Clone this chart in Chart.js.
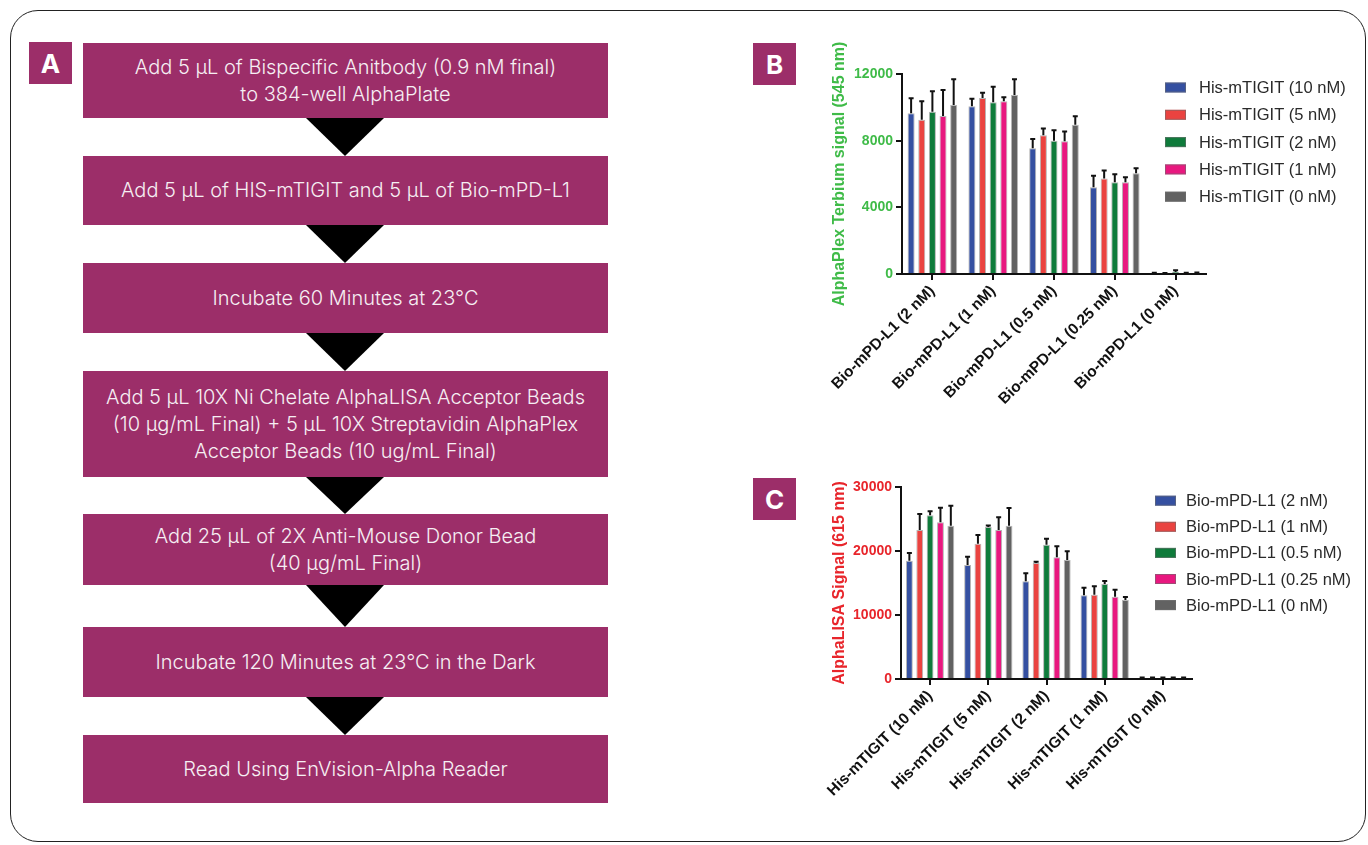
<!DOCTYPE html>
<html>
<head>
<meta charset="utf-8">
<script src="https://cdn.jsdelivr.net/npm/chart.js@4/dist/chart.umd.min.js"></script>
<style>
  html, body { margin: 0; padding: 0; background: #fff; }
  body { width: 1368px; height: 845px; position: relative; overflow: hidden; }
  #frame { position: absolute; left: 10px; top: 10px; width: 1356px; height: 832px;
           border: 1.5px solid #222; border-radius: 28px; box-sizing: border-box; }
  .tag { position: absolute; width: 43px; height: 42px; background: #9c2e69; color: #fff;
         font: 700 26px "Inter", "Noto Sans", sans-serif; display: flex; align-items: center;
         justify-content: center; }
  .step { position: absolute; left: 83px; width: 525px; background: #9c2e69; color: #f6eff3;
          font: 300 20px "Inter", "Noto Sans", sans-serif; line-height: 27px; text-align: center;
          display: flex; align-items: center; justify-content: center; }
  .arrow { position: absolute; left: 306px; width: 0; height: 0;
           border-left: 39px solid transparent; border-right: 39px solid transparent;
           border-top: 38px solid #000; }
  canvas { position: absolute; }
</style>
</head>
<body>
<div id="frame"></div>

<div class="tag" style="left:29px;top:42px">A</div>
<div class="tag" style="left:753px;top:43px">B</div>
<div class="tag" style="left:753px;top:478px">C</div>

<div id="flow"></div>

<canvas id="chartB" width="558" height="400" style="left:810px;top:20px"></canvas>
<canvas id="chartC" width="558" height="405" style="left:810px;top:440px"></canvas>

<script>
// ---- Assay workflow steps ----
const steps = [
  ['Add 5 µL of Bispecific Anitbody (0.9 nM final)', 'to 384-well AlphaPlate'],
  ['Add 5 µL of HIS-mTIGIT and 5 µL of Bio-mPD-L1'],
  ['Incubate 60 Minutes at 23°C'],
  ['Add 5 µL 10X Ni Chelate AlphaLISA Acceptor Beads', '(10 µg/mL Final) + 5 µL 10X Streptavidin AlphaPlex', 'Acceptor Beads (10 ug/mL Final)'],
  ['Add 25 µL of 2X Anti-Mouse Donor Bead', '(40 µg/mL Final)'],
  ['Incubate 120 Minutes at 23°C in the Dark'],
  ['Read Using EnVision-Alpha Reader']
];
const stepTop = [43, 156, 263, 371, 514, 627, 735];
const stepBottom = [118, 225, 333, 477, 585, 697, 803];

// ---- Panel B: AlphaPlex (545 nm), grouped by Bio-mPD-L1 ----
const groupsB = ['Bio-mPD-L1 (2 nM)', 'Bio-mPD-L1 (1 nM)', 'Bio-mPD-L1 (0.5 nM)', 'Bio-mPD-L1 (0.25 nM)', 'Bio-mPD-L1 (0 nM)'];
const seriesB = ['His-mTIGIT (10 nM)', 'His-mTIGIT (5 nM)', 'His-mTIGIT (2 nM)', 'His-mTIGIT (1 nM)', 'His-mTIGIT (0 nM)'];
const tigit10 = [9640, 10060, 7550, 5210, 40];
const tigit10Sd = [900, 460, 550, 680, 40];
const tigit5 = [9250, 10560, 8330, 5730, 30];
const tigit5Sd = [1110, 320, 400, 480, 30];
const tigit2 = [9740, 10300, 8000, 5510, 120];
const tigit2Sd = [1220, 940, 630, 480, 100];
const tigit1 = [9480, 10360, 7970, 5510, 40];
const tigit1Sd = [1560, 240, 580, 300, 30];
const tigit0 = [10140, 10740, 8950, 6050, 50];
const tigit0Sd = [1540, 940, 510, 300, 40];
const ticksB = [0, 4000, 8000, 12000];

// ---- Panel C: AlphaLISA (615 nm), grouped by His-mTIGIT ----
const groupsC = ['His-mTIGIT (10 nM)', 'His-mTIGIT (5 nM)', 'His-mTIGIT (2 nM)', 'His-mTIGIT (1 nM)', 'His-mTIGIT (0 nM)'];
const seriesC = ['Bio-mPD-L1 (2 nM)', 'Bio-mPD-L1 (1 nM)', 'Bio-mPD-L1 (0.5 nM)', 'Bio-mPD-L1 (0.25 nM)', 'Bio-mPD-L1 (0 nM)'];
const pdl2 = [18490, 17810, 15260, 13070, 150];
const pdl2Sd = [1200, 1300, 1250, 1200, 80];
const pdl1 = [23280, 21150, 18130, 13180, 150];
const pdl1Sd = [2500, 1350, 200, 1300, 80];
const pdl05 = [25570, 23750, 20990, 14840, 150];
const pdl05Sd = [630, 250, 940, 470, 80];
const pdl025 = [24480, 23280, 19010, 12860, 150];
const pdl025Sd = [2290, 1980, 1720, 1100, 80];
const pdl0 = [23960, 23960, 18590, 12340, 150];
const pdl0Sd = [3120, 2760, 1360, 470, 80];
const ticksC = [0, 10000, 20000, 30000];

const palette = ['#3550a1', '#ea4340', '#0f7b3b', '#e8187f', '#626262'];
const chartFont = '"Liberation Sans", Arial, sans-serif';

// Build the flowchart boxes and arrows
const flow = document.getElementById('flow');
steps.forEach((lines, i) => {
  const box = document.createElement('div');
  box.className = 'step';
  box.style.top = stepTop[i] + 'px';
  box.style.height = (stepBottom[i] - stepTop[i]) + 'px';
  box.innerHTML = '<div>' + lines.join('<br>') + '</div>';
  flow.appendChild(box);
  if (i < steps.length - 1) {
    const arr = document.createElement('div');
    arr.className = 'arrow';
    arr.style.top = stepBottom[i] + 'px';
    arr.style.borderTopWidth = (stepTop[i + 1] - stepBottom[i]) + 'px';
    flow.appendChild(arr);
  }
});

// Error bars (mean + SD, upper only)
const errorBars = {
  id: 'errorBars',
  afterDatasetsDraw(chart) {
    const ctx = chart.ctx;
    const y = chart.scales.y;
    ctx.save();
    ctx.strokeStyle = '#111';
    ctx.lineWidth = 2;
    chart.data.datasets.forEach((ds, di) => {
      const meta = chart.getDatasetMeta(di);
      meta.data.forEach((bar, i) => {
        const top = y.getPixelForValue(ds.data[i] + ds.sd[i]);
        ctx.beginPath();
        ctx.moveTo(bar.x, bar.y);
        ctx.lineTo(bar.x, top);
        ctx.moveTo(bar.x - 2.5, top);
        ctx.lineTo(bar.x + 2.5, top);
        ctx.stroke();
      });
    });
    ctx.restore();
  }
};

// Legend drawn at a fixed spot beside the bars
const sideLegend = {
  id: 'sideLegend',
  afterDraw(chart, args, opts) {
    const ctx = chart.ctx;
    ctx.save();
    ctx.font = '16.5px ' + chartFont;
    ctx.textBaseline = 'middle';
    chart.data.datasets.forEach((ds, i) => {
      const cy = opts.top + i * opts.gap;
      ctx.fillStyle = ds.backgroundColor;
      ctx.fillRect(opts.boxX, cy - 5, 21, 10);
      ctx.strokeStyle = 'rgba(110,110,110,0.6)';
      ctx.lineWidth = 1;
      ctx.strokeRect(opts.boxX + 0.5, cy - 4.5, 20, 9);
      ctx.fillStyle = '#2a2a2a';
      ctx.fillText(ds.label, opts.textX, cy + 1);
    });
    ctx.restore();
  }
};

function makeDatasets(names, values, sds, catPct) {
  return names.map((name, i) => ({
    label: name,
    data: values[i],
    sd: sds[i],
    backgroundColor: palette[i],
    borderColor: 'rgba(120,120,120,0.55)',
    borderWidth: 1,
    categoryPercentage: catPct,
    barPercentage: 0.66
  }));
}

function makeChart(id, groups, datasets, cfg) {
  return new Chart(document.getElementById(id), {
    type: 'bar',
    data: { labels: groups, datasets },
    plugins: [errorBars, sideLegend],
    options: {
      responsive: false,
      animation: false,
      devicePixelRatio: 1,
      layout: { padding: cfg.padding },
      plugins: {
        legend: { display: false },
        tooltip: { enabled: false },
        sideLegend: cfg.legend
      },
      scales: {
        x: {
          afterFit: s => { s.height = cfg.xHeight; },
          border: { color: '#111', width: 2 },
          grid: { offset: false, drawOnChartArea: false, color: '#111', lineWidth: 2, tickLength: 6 },
          ticks: {
            autoSkip: false, minRotation: 45, maxRotation: 45, padding: 2, color: '#111',
            font: { family: chartFont, size: 15.5, weight: 'bold' }
          }
        },
        y: {
          min: 0, max: cfg.ticks[cfg.ticks.length - 1],
          afterFit: s => { s.width = cfg.yWidth; },
          afterBuildTicks: s => { s.ticks = cfg.ticks.map(v => ({ value: v })); },
          border: { color: '#111', width: 2 },
          grid: { drawOnChartArea: false, color: '#111', lineWidth: 2, tickLength: 6 },
          ticks: {
            padding: 3, color: cfg.axisColor,
            font: { family: chartFont, size: 14, weight: 'bold' },
            callback: v => String(v)
          },
          title: {
            display: true, text: cfg.title, color: cfg.axisColor,
            padding: { top: 20, bottom: 0 },
            font: { family: chartFont, size: 16, weight: 'bold' }
          }
        }
      }
    }
  });
}

makeChart('chartB', groupsB,
  makeDatasets(seriesB, [tigit10, tigit5, tigit2, tigit1, tigit0],
               [tigit10Sd, tigit5Sd, tigit2Sd, tigit1Sd, tigit0Sd], 0.875),
  {
    padding: { top: 54, right: 162, left: 0, bottom: 0 },
    xHeight: 146, yWidth: 92, ticks: ticksB,
    axisColor: '#3fbb48', title: 'AlphaPlex Terbium signal (545 nm)',
    legend: { boxX: 355, textX: 389, top: 67.5, gap: 27.3 }
  });

makeChart('chartC', groupsC,
  makeDatasets(seriesC, [pdl2, pdl1, pdl05, pdl025, pdl0],
               [pdl2Sd, pdl1Sd, pdl05Sd, pdl025Sd, pdl0Sd], 0.89),
  {
    padding: { top: 47, right: 176, left: 0, bottom: 0 },
    xHeight: 166, yWidth: 91, ticks: ticksC,
    axisColor: '#e8252b', title: 'AlphaLISA Signal (615 nm)',
    legend: { boxX: 345, textX: 376, top: 60.7, gap: 26.1 }
  });
</script>
</body>
</html>
